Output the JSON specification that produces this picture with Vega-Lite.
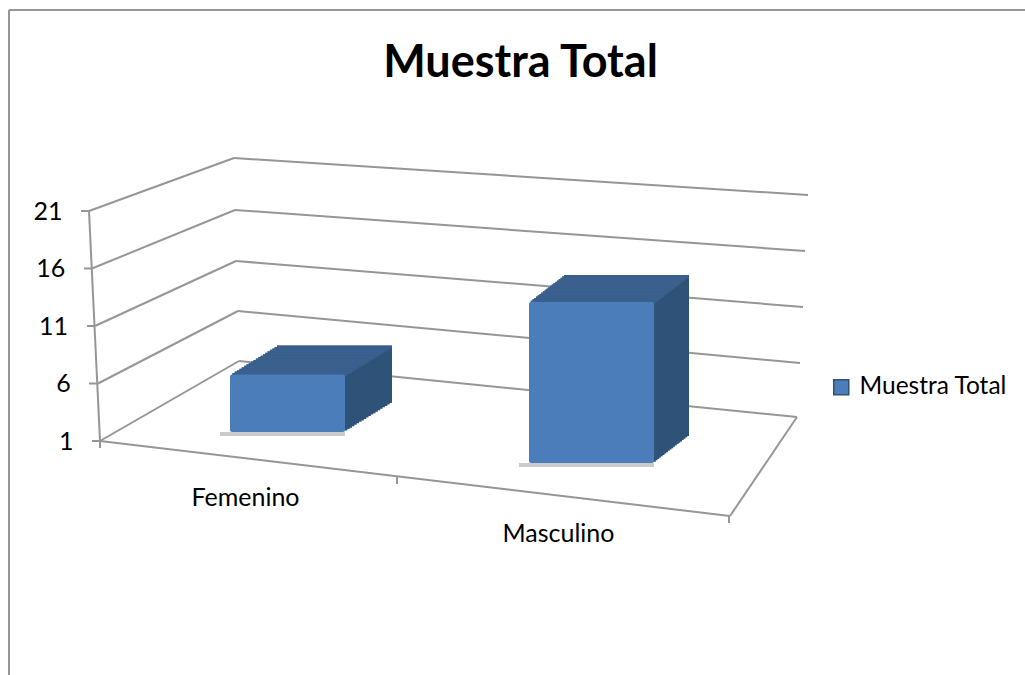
{"$schema":"https://vega.github.io/schema/vega-lite/v6.json","width":1025,"height":675,"padding":0,"autosize":"none","background":"white","config":{"view":{"stroke":null},"font":"Lato"},
"title":{"text":"Muestra Total","font":"Lato","fontSize":45,"fontWeight":"bold","color":"#000000","anchor":"middle","frame":"group","offset":-86,"dx":8},
"data":{"values":[{"frame":1}]},
"datasets":{"bars":[{"category":"Femenino","value":6,"series":"Muestra Total"},{"category":"Masculino","value":15,"series":"Muestra Total"}]},
"resolve":{"scale":{"x":"shared","y":"shared"}},
"encoding":{"y":{"type":"quantitative","scale":{"domain":[1,21],"range":[441,211],"zero":false,"nice":false},"axis":{"title":null,"grid":false,"domain":false,"ticks":false,"values":[1,6,11,16,21],"offset":-73,"labelFont":"Lato","labelFontSize":25,"labelColor":"#000000","labelFontWeight":"normal","labelBaseline":"middle","labelPadding":{"expr":"(datum.value-1)*0.55"}}}},
"layer":[
{"mark":{"type":"rule","color":"#969696","strokeWidth":2},"encoding":{"x":{"value":9},"y":{"value":10},"y2":{"value":675}}},
{"mark":{"type":"rule","color":"#969696","strokeWidth":2},"encoding":{"x":{"value":9},"x2":{"value":1025},"y":{"value":10}}},
{"mark":{"type":"rule","color":"#969696","strokeWidth":2,"y2Offset":-53},"encoding":{"x":{"value":89},"x2":{"value":234},"y":{"datum":21},"y2":{"datum":21}}},
{"mark":{"type":"rule","color":"#969696","strokeWidth":2,"y2Offset":-58.5},"encoding":{"x":{"value":92},"x2":{"value":235},"y":{"datum":16},"y2":{"datum":16}}},
{"mark":{"type":"rule","color":"#969696","strokeWidth":2,"y2Offset":-65},"encoding":{"x":{"value":95},"x2":{"value":236},"y":{"datum":11},"y2":{"datum":11}}},
{"mark":{"type":"rule","color":"#969696","strokeWidth":2,"y2Offset":-72.5},"encoding":{"x":{"value":98},"x2":{"value":238},"y":{"datum":6},"y2":{"datum":6}}},
{"mark":{"type":"rule","color":"#969696","strokeWidth":2,"y2Offset":-80},"encoding":{"x":{"value":100},"x2":{"value":239},"y":{"datum":1},"y2":{"datum":1}}},
{"mark":{"type":"rule","color":"#969696","strokeWidth":2,"yOffset":-53,"y2Offset":-16},"encoding":{"x":{"value":234},"x2":{"value":808},"y":{"datum":21},"y2":{"datum":21}}},
{"mark":{"type":"rule","color":"#969696","strokeWidth":2,"yOffset":-58.5,"y2Offset":-17.5},"encoding":{"x":{"value":235},"x2":{"value":805},"y":{"datum":16},"y2":{"datum":16}}},
{"mark":{"type":"rule","color":"#969696","strokeWidth":2,"yOffset":-65,"y2Offset":-19},"encoding":{"x":{"value":236},"x2":{"value":803},"y":{"datum":11},"y2":{"datum":11}}},
{"mark":{"type":"rule","color":"#969696","strokeWidth":2,"yOffset":-72.5,"y2Offset":-20.5},"encoding":{"x":{"value":238},"x2":{"value":800},"y":{"datum":6},"y2":{"datum":6}}},
{"mark":{"type":"rule","color":"#969696","strokeWidth":2,"yOffset":-80,"y2Offset":-24},"encoding":{"x":{"value":239},"x2":{"value":797},"y":{"datum":1},"y2":{"datum":1}}},
{"mark":{"type":"rule","color":"#969696","strokeWidth":2},"encoding":{"x":{"value":89},"x2":{"value":100},"y":{"datum":21},"y2":{"datum":1}}},
{"mark":{"type":"rule","color":"#969696","strokeWidth":2},"encoding":{"x":{"value":81},"x2":{"value":89},"y":{"datum":21}}},
{"mark":{"type":"rule","color":"#969696","strokeWidth":2},"encoding":{"x":{"value":84},"x2":{"value":92},"y":{"datum":16}}},
{"mark":{"type":"rule","color":"#969696","strokeWidth":2},"encoding":{"x":{"value":87},"x2":{"value":95},"y":{"datum":11}}},
{"mark":{"type":"rule","color":"#969696","strokeWidth":2},"encoding":{"x":{"value":89},"x2":{"value":98},"y":{"datum":6}}},
{"mark":{"type":"rule","color":"#969696","strokeWidth":2},"encoding":{"x":{"value":92},"x2":{"value":100},"y":{"datum":1}}},
{"mark":{"type":"rule","color":"#969696","strokeWidth":2,"y2Offset":75},"encoding":{"x":{"value":100},"x2":{"value":730},"y":{"datum":1},"y2":{"datum":1}}},
{"mark":{"type":"rule","color":"#969696","strokeWidth":2,"yOffset":75,"y2Offset":-24},"encoding":{"x":{"value":730},"x2":{"value":797},"y":{"datum":1},"y2":{"datum":1}}},
{"mark":{"type":"rule","color":"#969696","strokeWidth":2,"y2Offset":7},"encoding":{"x":{"value":100},"y":{"datum":1},"y2":{"datum":1}}},
{"mark":{"type":"rule","color":"#969696","strokeWidth":2,"yOffset":36,"y2Offset":43},"encoding":{"x":{"value":397},"y":{"datum":1},"y2":{"datum":1}}},
{"mark":{"type":"rule","color":"#969696","strokeWidth":2,"yOffset":75,"y2Offset":82},"encoding":{"x":{"value":729},"y":{"datum":1},"y2":{"datum":1}}},
{"data":{"name":"bars"},"transform":[{"filter":"datum.category==='Femenino'"}],
"encoding":{"x":{"field":"category","type":"nominal","scale":{"domain":["Femenino","Masculino"],"range":[135.5,743.5],"paddingInner":0,"paddingOuter":0},"axis":null},"y":{"field":"value","type":"quantitative"}},
"layer":[
{"mark":{"type":"tick","size":125,"thickness":4,"color":"#a8a8a8","opacity":0.6,"xOffset":-5,"yOffset":-7},"encoding":{"y":{"datum":1}}},
{"mark":{"type":"bar","width":115,"color":"#2f5279","xOffset":47,"yOffset":-38,"y2Offset":-38},"encoding":{"y2":{"datum":1}}},
{"mark":{"type":"bar","width":115,"color":"#2f5279","xOffset":44.65,"yOffset":-36.55,"y2Offset":-36.55},"encoding":{"y2":{"datum":1}}},
{"mark":{"type":"bar","width":115,"color":"#2f5279","xOffset":42.3,"yOffset":-35.1,"y2Offset":-35.1},"encoding":{"y2":{"datum":1}}},
{"mark":{"type":"bar","width":115,"color":"#2f5279","xOffset":39.95,"yOffset":-33.65,"y2Offset":-33.65},"encoding":{"y2":{"datum":1}}},
{"mark":{"type":"bar","width":115,"color":"#2f5279","xOffset":37.6,"yOffset":-32.2,"y2Offset":-32.2},"encoding":{"y2":{"datum":1}}},
{"mark":{"type":"bar","width":115,"color":"#2f5279","xOffset":35.25,"yOffset":-30.75,"y2Offset":-30.75},"encoding":{"y2":{"datum":1}}},
{"mark":{"type":"bar","width":115,"color":"#2f5279","xOffset":32.9,"yOffset":-29.3,"y2Offset":-29.3},"encoding":{"y2":{"datum":1}}},
{"mark":{"type":"bar","width":115,"color":"#2f5279","xOffset":30.55,"yOffset":-27.85,"y2Offset":-27.85},"encoding":{"y2":{"datum":1}}},
{"mark":{"type":"bar","width":115,"color":"#2f5279","xOffset":28.2,"yOffset":-26.4,"y2Offset":-26.4},"encoding":{"y2":{"datum":1}}},
{"mark":{"type":"bar","width":115,"color":"#2f5279","xOffset":25.85,"yOffset":-24.95,"y2Offset":-24.95},"encoding":{"y2":{"datum":1}}},
{"mark":{"type":"bar","width":115,"color":"#2f5279","xOffset":23.5,"yOffset":-23.5,"y2Offset":-23.5},"encoding":{"y2":{"datum":1}}},
{"mark":{"type":"bar","width":115,"color":"#2f5279","xOffset":21.15,"yOffset":-22.05,"y2Offset":-22.05},"encoding":{"y2":{"datum":1}}},
{"mark":{"type":"bar","width":115,"color":"#2f5279","xOffset":18.8,"yOffset":-20.6,"y2Offset":-20.6},"encoding":{"y2":{"datum":1}}},
{"mark":{"type":"bar","width":115,"color":"#2f5279","xOffset":16.45,"yOffset":-19.15,"y2Offset":-19.15},"encoding":{"y2":{"datum":1}}},
{"mark":{"type":"bar","width":115,"color":"#2f5279","xOffset":14.1,"yOffset":-17.7,"y2Offset":-17.7},"encoding":{"y2":{"datum":1}}},
{"mark":{"type":"bar","width":115,"color":"#2f5279","xOffset":11.75,"yOffset":-16.25,"y2Offset":-16.25},"encoding":{"y2":{"datum":1}}},
{"mark":{"type":"bar","width":115,"color":"#2f5279","xOffset":9.4,"yOffset":-14.8,"y2Offset":-14.8},"encoding":{"y2":{"datum":1}}},
{"mark":{"type":"bar","width":115,"color":"#2f5279","xOffset":7.05,"yOffset":-13.35,"y2Offset":-13.35},"encoding":{"y2":{"datum":1}}},
{"mark":{"type":"bar","width":115,"color":"#2f5279","xOffset":4.7,"yOffset":-11.9,"y2Offset":-11.9},"encoding":{"y2":{"datum":1}}},
{"mark":{"type":"bar","width":115,"color":"#2f5279","xOffset":2.35,"yOffset":-10.45,"y2Offset":-10.45},"encoding":{"y2":{"datum":1}}},
{"mark":{"type":"tick","size":115,"thickness":3,"color":"#3c6290","xOffset":47,"yOffset":-36.5}},
{"mark":{"type":"tick","size":115,"thickness":3,"color":"#3c6290","xOffset":44.65,"yOffset":-35.05}},
{"mark":{"type":"tick","size":115,"thickness":3,"color":"#3c6290","xOffset":42.3,"yOffset":-33.6}},
{"mark":{"type":"tick","size":115,"thickness":3,"color":"#3c6290","xOffset":39.95,"yOffset":-32.15}},
{"mark":{"type":"tick","size":115,"thickness":3,"color":"#3c6290","xOffset":37.6,"yOffset":-30.7}},
{"mark":{"type":"tick","size":115,"thickness":3,"color":"#3c6290","xOffset":35.25,"yOffset":-29.25}},
{"mark":{"type":"tick","size":115,"thickness":3,"color":"#3c6290","xOffset":32.9,"yOffset":-27.8}},
{"mark":{"type":"tick","size":115,"thickness":3,"color":"#3c6290","xOffset":30.55,"yOffset":-26.35}},
{"mark":{"type":"tick","size":115,"thickness":3,"color":"#3c6290","xOffset":28.2,"yOffset":-24.9}},
{"mark":{"type":"tick","size":115,"thickness":3,"color":"#3c6290","xOffset":25.85,"yOffset":-23.45}},
{"mark":{"type":"tick","size":115,"thickness":3,"color":"#3c6290","xOffset":23.5,"yOffset":-22}},
{"mark":{"type":"tick","size":115,"thickness":3,"color":"#3c6290","xOffset":21.15,"yOffset":-20.55}},
{"mark":{"type":"tick","size":115,"thickness":3,"color":"#3c6290","xOffset":18.8,"yOffset":-19.1}},
{"mark":{"type":"tick","size":115,"thickness":3,"color":"#3c6290","xOffset":16.45,"yOffset":-17.65}},
{"mark":{"type":"tick","size":115,"thickness":3,"color":"#3c6290","xOffset":14.1,"yOffset":-16.2}},
{"mark":{"type":"tick","size":115,"thickness":3,"color":"#3c6290","xOffset":11.75,"yOffset":-14.75}},
{"mark":{"type":"tick","size":115,"thickness":3,"color":"#3c6290","xOffset":9.4,"yOffset":-13.3}},
{"mark":{"type":"tick","size":115,"thickness":3,"color":"#3c6290","xOffset":7.05,"yOffset":-11.85}},
{"mark":{"type":"tick","size":115,"thickness":3,"color":"#3c6290","xOffset":4.7,"yOffset":-10.4}},
{"mark":{"type":"tick","size":115,"thickness":3,"color":"#3c6290","xOffset":2.35,"yOffset":-8.95}},
{"mark":{"type":"bar","width":115,"cornerRadius":2,"yOffset":-9,"y2Offset":-9},"encoding":{"y2":{"datum":1},"color":{"field":"series","type":"nominal","scale":{"domain":["Muestra Total"],"range":["#4c7dbb"]},"legend":{"title":null,"orient":"none","legendX":829,"legendY":375,"symbolType":"square","symbolSize":225,"labelFont":"Lato","labelFontSize":24.5,"labelColor":"#000000","labelOffset":6,"labelLimit":220,"symbolStrokeColor":"#2f5279"}}}},
{"mark":{"type":"text","font":"Lato","fontSize":25,"color":"#000000","dx":-42,"dy":57},"encoding":{"y":{"datum":1},"text":{"field":"category"}}}
]},
{"data":{"name":"bars"},"transform":[{"filter":"datum.category==='Masculino'"}],
"encoding":{"x":{"field":"category","type":"nominal","scale":{"domain":["Femenino","Masculino"],"range":[135.5,743.5],"paddingInner":0,"paddingOuter":0},"axis":null},"y":{"field":"value","type":"quantitative"}},
"layer":[
{"mark":{"type":"tick","size":135,"thickness":4,"color":"#a8a8a8","opacity":0.6,"xOffset":-5,"yOffset":24},"encoding":{"y":{"datum":1}}},
{"mark":{"type":"bar","width":125,"color":"#2f5279","xOffset":35,"yOffset":-5,"y2Offset":-5},"encoding":{"y2":{"datum":1}}},
{"mark":{"type":"bar","width":125,"color":"#2f5279","xOffset":33.25,"yOffset":-3.65,"y2Offset":-3.65},"encoding":{"y2":{"datum":1}}},
{"mark":{"type":"bar","width":125,"color":"#2f5279","xOffset":31.5,"yOffset":-2.3,"y2Offset":-2.3},"encoding":{"y2":{"datum":1}}},
{"mark":{"type":"bar","width":125,"color":"#2f5279","xOffset":29.75,"yOffset":-0.95,"y2Offset":-0.95},"encoding":{"y2":{"datum":1}}},
{"mark":{"type":"bar","width":125,"color":"#2f5279","xOffset":28,"yOffset":0.4,"y2Offset":0.4},"encoding":{"y2":{"datum":1}}},
{"mark":{"type":"bar","width":125,"color":"#2f5279","xOffset":26.25,"yOffset":1.75,"y2Offset":1.75},"encoding":{"y2":{"datum":1}}},
{"mark":{"type":"bar","width":125,"color":"#2f5279","xOffset":24.5,"yOffset":3.1,"y2Offset":3.1},"encoding":{"y2":{"datum":1}}},
{"mark":{"type":"bar","width":125,"color":"#2f5279","xOffset":22.75,"yOffset":4.45,"y2Offset":4.45},"encoding":{"y2":{"datum":1}}},
{"mark":{"type":"bar","width":125,"color":"#2f5279","xOffset":21,"yOffset":5.8,"y2Offset":5.8},"encoding":{"y2":{"datum":1}}},
{"mark":{"type":"bar","width":125,"color":"#2f5279","xOffset":19.25,"yOffset":7.15,"y2Offset":7.15},"encoding":{"y2":{"datum":1}}},
{"mark":{"type":"bar","width":125,"color":"#2f5279","xOffset":17.5,"yOffset":8.5,"y2Offset":8.5},"encoding":{"y2":{"datum":1}}},
{"mark":{"type":"bar","width":125,"color":"#2f5279","xOffset":15.75,"yOffset":9.85,"y2Offset":9.85},"encoding":{"y2":{"datum":1}}},
{"mark":{"type":"bar","width":125,"color":"#2f5279","xOffset":14,"yOffset":11.2,"y2Offset":11.2},"encoding":{"y2":{"datum":1}}},
{"mark":{"type":"bar","width":125,"color":"#2f5279","xOffset":12.25,"yOffset":12.55,"y2Offset":12.55},"encoding":{"y2":{"datum":1}}},
{"mark":{"type":"bar","width":125,"color":"#2f5279","xOffset":10.5,"yOffset":13.9,"y2Offset":13.9},"encoding":{"y2":{"datum":1}}},
{"mark":{"type":"bar","width":125,"color":"#2f5279","xOffset":8.75,"yOffset":15.25,"y2Offset":15.25},"encoding":{"y2":{"datum":1}}},
{"mark":{"type":"bar","width":125,"color":"#2f5279","xOffset":7,"yOffset":16.6,"y2Offset":16.6},"encoding":{"y2":{"datum":1}}},
{"mark":{"type":"bar","width":125,"color":"#2f5279","xOffset":5.25,"yOffset":17.95,"y2Offset":17.95},"encoding":{"y2":{"datum":1}}},
{"mark":{"type":"bar","width":125,"color":"#2f5279","xOffset":3.5,"yOffset":19.3,"y2Offset":19.3},"encoding":{"y2":{"datum":1}}},
{"mark":{"type":"bar","width":125,"color":"#2f5279","xOffset":1.75,"yOffset":20.65,"y2Offset":20.65},"encoding":{"y2":{"datum":1}}},
{"mark":{"type":"tick","size":125,"thickness":3,"color":"#3c6290","xOffset":35,"yOffset":-3.5}},
{"mark":{"type":"tick","size":125,"thickness":3,"color":"#3c6290","xOffset":33.25,"yOffset":-2.15}},
{"mark":{"type":"tick","size":125,"thickness":3,"color":"#3c6290","xOffset":31.5,"yOffset":-0.8}},
{"mark":{"type":"tick","size":125,"thickness":3,"color":"#3c6290","xOffset":29.75,"yOffset":0.55}},
{"mark":{"type":"tick","size":125,"thickness":3,"color":"#3c6290","xOffset":28,"yOffset":1.9}},
{"mark":{"type":"tick","size":125,"thickness":3,"color":"#3c6290","xOffset":26.25,"yOffset":3.25}},
{"mark":{"type":"tick","size":125,"thickness":3,"color":"#3c6290","xOffset":24.5,"yOffset":4.6}},
{"mark":{"type":"tick","size":125,"thickness":3,"color":"#3c6290","xOffset":22.75,"yOffset":5.95}},
{"mark":{"type":"tick","size":125,"thickness":3,"color":"#3c6290","xOffset":21,"yOffset":7.3}},
{"mark":{"type":"tick","size":125,"thickness":3,"color":"#3c6290","xOffset":19.25,"yOffset":8.65}},
{"mark":{"type":"tick","size":125,"thickness":3,"color":"#3c6290","xOffset":17.5,"yOffset":10}},
{"mark":{"type":"tick","size":125,"thickness":3,"color":"#3c6290","xOffset":15.75,"yOffset":11.35}},
{"mark":{"type":"tick","size":125,"thickness":3,"color":"#3c6290","xOffset":14,"yOffset":12.7}},
{"mark":{"type":"tick","size":125,"thickness":3,"color":"#3c6290","xOffset":12.25,"yOffset":14.05}},
{"mark":{"type":"tick","size":125,"thickness":3,"color":"#3c6290","xOffset":10.5,"yOffset":15.4}},
{"mark":{"type":"tick","size":125,"thickness":3,"color":"#3c6290","xOffset":8.75,"yOffset":16.75}},
{"mark":{"type":"tick","size":125,"thickness":3,"color":"#3c6290","xOffset":7,"yOffset":18.1}},
{"mark":{"type":"tick","size":125,"thickness":3,"color":"#3c6290","xOffset":5.25,"yOffset":19.45}},
{"mark":{"type":"tick","size":125,"thickness":3,"color":"#3c6290","xOffset":3.5,"yOffset":20.8}},
{"mark":{"type":"tick","size":125,"thickness":3,"color":"#3c6290","xOffset":1.75,"yOffset":22.15}},
{"mark":{"type":"bar","width":125,"cornerRadius":2,"yOffset":22,"y2Offset":22},"encoding":{"y2":{"datum":1},"color":{"field":"series","type":"nominal"}}},
{"mark":{"type":"text","font":"Lato","fontSize":25,"color":"#000000","dx":-33,"dy":93},"encoding":{"y":{"datum":1},"text":{"field":"category"}}}
]}
]}
